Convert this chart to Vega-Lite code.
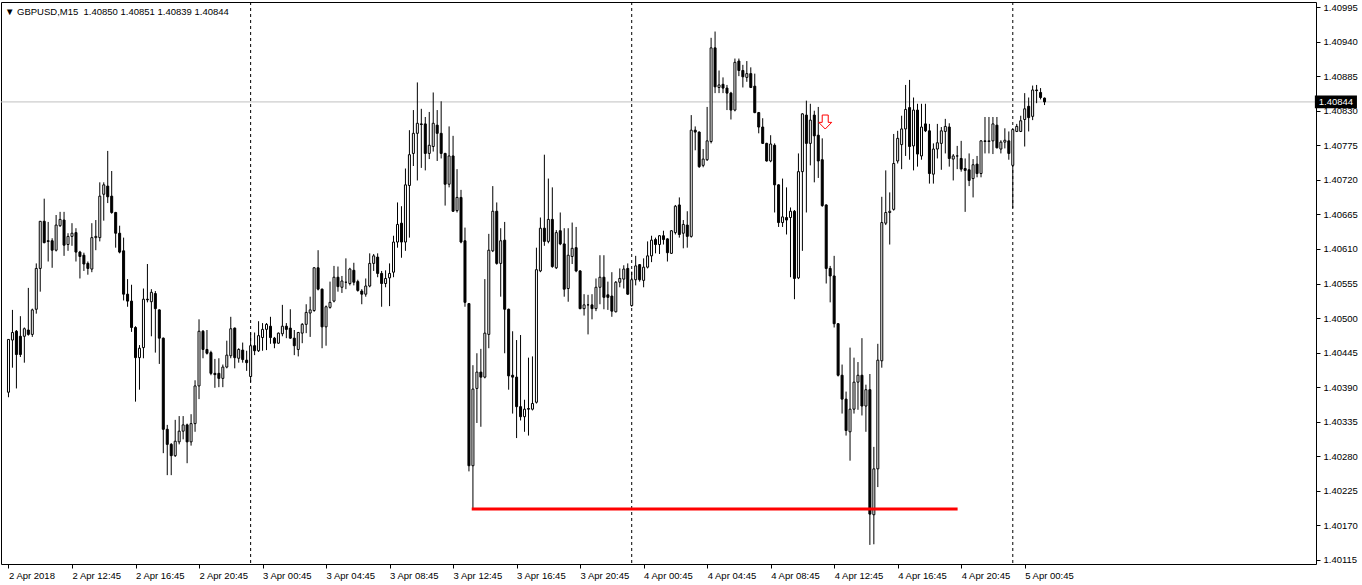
{
  "$schema": "https://vega.github.io/schema/vega-lite/v6.json",
  "width": 1315,
  "height": 562,
  "autosize": {"type": "none"},
  "padding": {"left": 1, "top": 2, "right": 46, "bottom": 21},
  "background": "#ffffff",
  "title": {"text": "\u25bc GBPUSD,M15\u00a0 1.40850 1.40851 1.40839 1.40844", "anchor": "start", "frame": "group", "orient": "top", "offset": -14, "baseline": "bottom", "dx": 4, "dy": 11, "font": "Liberation Sans", "fontSize": 9.5, "fontWeight": "normal", "color": "#000000"},
  "config": {
    "view": {"stroke": "#000000", "strokeWidth": 1},
    "axis": {"domain": false, "grid": false, "title": null, "labelFont": "Liberation Sans", "labelFontSize": 9.5, "labelColor": "#000000", "tickColor": "#000000", "tickSize": 4, "tickWidth": 1, "labelPadding": 2, "labelOverlap": false, "labelFlush": false, "labelBound": false}
  },
  "datasets": {
    "candles": [
      {"i":0,"o":1.40382,"h":1.40466,"l":1.40374,"c":1.40466},
      {"i":1,"o":1.40465,"h":1.40513,"l":1.40421,"c":1.40477},
      {"i":2,"o":1.40479,"h":1.40481,"l":1.40388,"c":1.40442},
      {"i":3,"o":1.40471,"h":1.40503,"l":1.40438,"c":1.40442},
      {"i":4,"o":1.40471,"h":1.40485,"l":1.40429,"c":1.40483},
      {"i":5,"o":1.40481,"h":1.40548,"l":1.40472,"c":1.40474},
      {"i":6,"o":1.40474,"h":1.40515,"l":1.40470,"c":1.40513},
      {"i":7,"o":1.40514,"h":1.40587,"l":1.40507,"c":1.40579},
      {"i":8,"o":1.40579,"h":1.40654,"l":1.40542,"c":1.40654},
      {"i":9,"o":1.40654,"h":1.40690,"l":1.40619,"c":1.40620},
      {"i":10,"o":1.40623,"h":1.40653,"l":1.40590,"c":1.40622},
      {"i":11,"o":1.40623,"h":1.40627,"l":1.40580,"c":1.40608},
      {"i":12,"o":1.40608,"h":1.40664,"l":1.40606,"c":1.40648},
      {"i":13,"o":1.40647,"h":1.40669,"l":1.40645,"c":1.40657},
      {"i":14,"o":1.40656,"h":1.40669,"l":1.40599,"c":1.40616},
      {"i":15,"o":1.40617,"h":1.40635,"l":1.40607,"c":1.40630},
      {"i":16,"o":1.40630,"h":1.40651,"l":1.40615,"c":1.40635},
      {"i":17,"o":1.40636,"h":1.40643,"l":1.40590,"c":1.40605},
      {"i":18,"o":1.40605,"h":1.40607,"l":1.40563,"c":1.40598},
      {"i":19,"o":1.40600,"h":1.40604,"l":1.40575,"c":1.40586},
      {"i":20,"o":1.40587,"h":1.40590,"l":1.40569,"c":1.40579},
      {"i":21,"o":1.40578,"h":1.40651,"l":1.40573,"c":1.40628},
      {"i":22,"o":1.40628,"h":1.40656,"l":1.40608,"c":1.40630},
      {"i":23,"o":1.40628,"h":1.40716,"l":1.40622,"c":1.40694},
      {"i":24,"o":1.40697,"h":1.40716,"l":1.40655,"c":1.40712},
      {"i":25,"o":1.40710,"h":1.40766,"l":1.40683,"c":1.40693},
      {"i":26,"o":1.40694,"h":1.40734,"l":1.40666,"c":1.40668},
      {"i":27,"o":1.40668,"h":1.40669,"l":1.40612,"c":1.40635},
      {"i":28,"o":1.40635,"h":1.40647,"l":1.40603,"c":1.40605},
      {"i":29,"o":1.40607,"h":1.40628,"l":1.40528,"c":1.40538},
      {"i":30,"o":1.40538,"h":1.40562,"l":1.40518,"c":1.40527},
      {"i":31,"o":1.40527,"h":1.40553,"l":1.40478,"c":1.40485},
      {"i":32,"o":1.40485,"h":1.40487,"l":1.40367,"c":1.40437},
      {"i":33,"o":1.40437,"h":1.40457,"l":1.40386,"c":1.40452},
      {"i":34,"o":1.40453,"h":1.40547,"l":1.40436,"c":1.40530},
      {"i":35,"o":1.40530,"h":1.40586,"l":1.40525,"c":1.40529},
      {"i":36,"o":1.40526,"h":1.40546,"l":1.40471,"c":1.40541},
      {"i":37,"o":1.40539,"h":1.40543,"l":1.40445,"c":1.40515},
      {"i":38,"o":1.40513,"h":1.40514,"l":1.40427,"c":1.40468},
      {"i":39,"o":1.40468,"h":1.40469,"l":1.40285,"c":1.40323},
      {"i":40,"o":1.40323,"h":1.40330,"l":1.40250,"c":1.40299},
      {"i":41,"o":1.40299,"h":1.40301,"l":1.40250,"c":1.40281},
      {"i":42,"o":1.40281,"h":1.40338,"l":1.40279,"c":1.40304},
      {"i":43,"o":1.40303,"h":1.40344,"l":1.40299,"c":1.40320},
      {"i":44,"o":1.40320,"h":1.40344,"l":1.40307,"c":1.40330},
      {"i":45,"o":1.40330,"h":1.40332,"l":1.40269,"c":1.40303},
      {"i":46,"o":1.40303,"h":1.40347,"l":1.40297,"c":1.40332},
      {"i":47,"o":1.40332,"h":1.40401,"l":1.40319,"c":1.40392},
      {"i":48,"o":1.40392,"h":1.40498,"l":1.40371,"c":1.40479},
      {"i":49,"o":1.40479,"h":1.40481,"l":1.40436,"c":1.40450},
      {"i":50,"o":1.40450,"h":1.40481,"l":1.40442,"c":1.40444},
      {"i":51,"o":1.40445,"h":1.40448,"l":1.40409,"c":1.40412},
      {"i":52,"o":1.40412,"h":1.40435,"l":1.40389,"c":1.40410},
      {"i":53,"o":1.40412,"h":1.40436,"l":1.40390,"c":1.40404},
      {"i":54,"o":1.40404,"h":1.40426,"l":1.40390,"c":1.40422},
      {"i":55,"o":1.40422,"h":1.40464,"l":1.40420,"c":1.40441},
      {"i":56,"o":1.40440,"h":1.40502,"l":1.40436,"c":1.40483},
      {"i":57,"o":1.40484,"h":1.40485,"l":1.40420,"c":1.40437},
      {"i":58,"o":1.40436,"h":1.40452,"l":1.40429,"c":1.40450},
      {"i":59,"o":1.40449,"h":1.40461,"l":1.40429,"c":1.40434},
      {"i":60,"o":1.40433,"h":1.40448,"l":1.40416,"c":1.40429},
      {"i":61,"o":1.40407,"h":1.40477,"l":1.40398,"c":1.40456},
      {"i":62,"o":1.40456,"h":1.40477,"l":1.40441,"c":1.40448},
      {"i":63,"o":1.40448,"h":1.40495,"l":1.40446,"c":1.40472},
      {"i":64,"o":1.40469,"h":1.40492,"l":1.40448,"c":1.40482},
      {"i":65,"o":1.40482,"h":1.40492,"l":1.40449,"c":1.40490},
      {"i":66,"o":1.40487,"h":1.40502,"l":1.40459,"c":1.40469},
      {"i":67,"o":1.40468,"h":1.40470,"l":1.40452,"c":1.40460},
      {"i":68,"o":1.40460,"h":1.40477,"l":1.40459,"c":1.40476},
      {"i":69,"o":1.40475,"h":1.40521,"l":1.40471,"c":1.40487},
      {"i":70,"o":1.40487,"h":1.40492,"l":1.40468,"c":1.40482},
      {"i":71,"o":1.40484,"h":1.40514,"l":1.40467,"c":1.40468},
      {"i":72,"o":1.40468,"h":1.40481,"l":1.40441,"c":1.40456},
      {"i":73,"o":1.40450,"h":1.40478,"l":1.40439,"c":1.40477},
      {"i":74,"o":1.40476,"h":1.40492,"l":1.40460,"c":1.40490},
      {"i":75,"o":1.40490,"h":1.40522,"l":1.40476,"c":1.40509},
      {"i":76,"o":1.40508,"h":1.40534,"l":1.40470,"c":1.40513},
      {"i":77,"o":1.40512,"h":1.40581,"l":1.40510,"c":1.40580},
      {"i":78,"o":1.40580,"h":1.40608,"l":1.40544,"c":1.40546},
      {"i":79,"o":1.40546,"h":1.40547,"l":1.40452,"c":1.40486},
      {"i":80,"o":1.40486,"h":1.40520,"l":1.40456,"c":1.40518},
      {"i":81,"o":1.40517,"h":1.40558,"l":1.40515,"c":1.40525},
      {"i":82,"o":1.40527,"h":1.40583,"l":1.40525,"c":1.40565},
      {"i":83,"o":1.40565,"h":1.40582,"l":1.40542,"c":1.40550},
      {"i":84,"o":1.40549,"h":1.40567,"l":1.40540,"c":1.40559},
      {"i":85,"o":1.40557,"h":1.40595,"l":1.40546,"c":1.40557},
      {"i":86,"o":1.40555,"h":1.40580,"l":1.40552,"c":1.40578},
      {"i":87,"o":1.40576,"h":1.40588,"l":1.40552,"c":1.40557},
      {"i":88,"o":1.40558,"h":1.40561,"l":1.40542,"c":1.40544},
      {"i":89,"o":1.40543,"h":1.40546,"l":1.40522,"c":1.40538},
      {"i":90,"o":1.40538,"h":1.40563,"l":1.40534,"c":1.40551},
      {"i":91,"o":1.40551,"h":1.40603,"l":1.40549,"c":1.40587},
      {"i":92,"o":1.40587,"h":1.40602,"l":1.40575,"c":1.40599},
      {"i":93,"o":1.40597,"h":1.40603,"l":1.40565,"c":1.40571},
      {"i":94,"o":1.40571,"h":1.40575,"l":1.40518,"c":1.40555},
      {"i":95,"o":1.40555,"h":1.40576,"l":1.40549,"c":1.40563},
      {"i":96,"o":1.40564,"h":1.40587,"l":1.40519,"c":1.40571},
      {"i":97,"o":1.40573,"h":1.40631,"l":1.40565,"c":1.40621},
      {"i":98,"o":1.40621,"h":1.40684,"l":1.40612,"c":1.40649},
      {"i":99,"o":1.40651,"h":1.40678,"l":1.40596,"c":1.40621},
      {"i":100,"o":1.40621,"h":1.40738,"l":1.40607,"c":1.40712},
      {"i":101,"o":1.40711,"h":1.40799,"l":1.40628,"c":1.40760},
      {"i":102,"o":1.40762,"h":1.40831,"l":1.40742,"c":1.40794},
      {"i":103,"o":1.40794,"h":1.40875,"l":1.40719,"c":1.40810},
      {"i":104,"o":1.40809,"h":1.40833,"l":1.40739,"c":1.40808},
      {"i":105,"o":1.40809,"h":1.40820,"l":1.40735,"c":1.40762},
      {"i":106,"o":1.40762,"h":1.40828,"l":1.40753,"c":1.40775},
      {"i":107,"o":1.40773,"h":1.40859,"l":1.40765,"c":1.40810},
      {"i":108,"o":1.40807,"h":1.40831,"l":1.40750,"c":1.40794},
      {"i":109,"o":1.40794,"h":1.40845,"l":1.40754,"c":1.40762},
      {"i":110,"o":1.40762,"h":1.40763,"l":1.40679,"c":1.40713},
      {"i":111,"o":1.40713,"h":1.40805,"l":1.40708,"c":1.40758},
      {"i":112,"o":1.40758,"h":1.40790,"l":1.40669,"c":1.40670},
      {"i":113,"o":1.40671,"h":1.40737,"l":1.40668,"c":1.40692},
      {"i":114,"o":1.40692,"h":1.40704,"l":1.40619,"c":1.40621},
      {"i":115,"o":1.40623,"h":1.40644,"l":1.40518,"c":1.40525},
      {"i":116,"o":1.40523,"h":1.40524,"l":1.40256,"c":1.40265},
      {"i":117,"o":1.40265,"h":1.40425,"l":1.40195,"c":1.40387},
      {"i":118,"o":1.40388,"h":1.40444,"l":1.40333,"c":1.40414},
      {"i":119,"o":1.40414,"h":1.40451,"l":1.40327,"c":1.40406},
      {"i":120,"o":1.40406,"h":1.40562,"l":1.40404,"c":1.40476},
      {"i":121,"o":1.40474,"h":1.40634,"l":1.40452,"c":1.40608},
      {"i":122,"o":1.40607,"h":1.40710,"l":1.40605,"c":1.40670},
      {"i":123,"o":1.40670,"h":1.40684,"l":1.40585,"c":1.40587},
      {"i":124,"o":1.40587,"h":1.40643,"l":1.40534,"c":1.40623},
      {"i":125,"o":1.40624,"h":1.40653,"l":1.40444,"c":1.40514},
      {"i":126,"o":1.40514,"h":1.40515,"l":1.40386,"c":1.40408},
      {"i":127,"o":1.40409,"h":1.40479,"l":1.40348,"c":1.40406},
      {"i":128,"o":1.40406,"h":1.40465,"l":1.40309,"c":1.40359},
      {"i":129,"o":1.40359,"h":1.40473,"l":1.40337,"c":1.40343},
      {"i":130,"o":1.40343,"h":1.40370,"l":1.40319,"c":1.40355},
      {"i":131,"o":1.40356,"h":1.40437,"l":1.40313,"c":1.40355},
      {"i":132,"o":1.40355,"h":1.40439,"l":1.40353,"c":1.40364},
      {"i":133,"o":1.40366,"h":1.40612,"l":1.40364,"c":1.40577},
      {"i":134,"o":1.40575,"h":1.40660,"l":1.40573,"c":1.40643},
      {"i":135,"o":1.40643,"h":1.40760,"l":1.40615,"c":1.40622},
      {"i":136,"o":1.40622,"h":1.40722,"l":1.40619,"c":1.40657},
      {"i":137,"o":1.40657,"h":1.40708,"l":1.40580,"c":1.40582},
      {"i":138,"o":1.40580,"h":1.40640,"l":1.40578,"c":1.40636},
      {"i":139,"o":1.40639,"h":1.40668,"l":1.40616,"c":1.40618},
      {"i":140,"o":1.40618,"h":1.40643,"l":1.40534,"c":1.40546},
      {"i":141,"o":1.40547,"h":1.40643,"l":1.40526,"c":1.40600},
      {"i":142,"o":1.40598,"h":1.40652,"l":1.40586,"c":1.40611},
      {"i":143,"o":1.40612,"h":1.40645,"l":1.40573,"c":1.40575},
      {"i":144,"o":1.40575,"h":1.40576,"l":1.40514,"c":1.40515},
      {"i":145,"o":1.40515,"h":1.40538,"l":1.40504,"c":1.40521},
      {"i":146,"o":1.40521,"h":1.40537,"l":1.40474,"c":1.40521},
      {"i":147,"o":1.40521,"h":1.40538,"l":1.40498,"c":1.40515},
      {"i":148,"o":1.40515,"h":1.40563,"l":1.40511,"c":1.40549},
      {"i":149,"o":1.40549,"h":1.40600,"l":1.40522,"c":1.40565},
      {"i":150,"o":1.40565,"h":1.40600,"l":1.40514,"c":1.40533},
      {"i":151,"o":1.40537,"h":1.40558,"l":1.40513,"c":1.40533},
      {"i":152,"o":1.40535,"h":1.40573,"l":1.40502,"c":1.40511},
      {"i":153,"o":1.40510,"h":1.40559,"l":1.40509,"c":1.40557},
      {"i":154,"o":1.40557,"h":1.40579,"l":1.40549,"c":1.40563},
      {"i":155,"o":1.40562,"h":1.40584,"l":1.40547,"c":1.40578},
      {"i":156,"o":1.40579,"h":1.40587,"l":1.40537,"c":1.40538},
      {"i":157,"o":1.40520,"h":1.40574,"l":1.40518,"c":1.40561},
      {"i":158,"o":1.40561,"h":1.40599,"l":1.40552,"c":1.40583},
      {"i":159,"o":1.40585,"h":1.40586,"l":1.40558,"c":1.40561},
      {"i":160,"o":1.40560,"h":1.40595,"l":1.40549,"c":1.40581},
      {"i":161,"o":1.40581,"h":1.40622,"l":1.40579,"c":1.40599},
      {"i":162,"o":1.40599,"h":1.40631,"l":1.40589,"c":1.40624},
      {"i":163,"o":1.40625,"h":1.40628,"l":1.40603,"c":1.40617},
      {"i":164,"o":1.40617,"h":1.40632,"l":1.40602,"c":1.40631},
      {"i":165,"o":1.40631,"h":1.40639,"l":1.40617,"c":1.40625},
      {"i":166,"o":1.40626,"h":1.40627,"l":1.40590,"c":1.40604},
      {"i":167,"o":1.40603,"h":1.40640,"l":1.40602,"c":1.40639},
      {"i":168,"o":1.40636,"h":1.40680,"l":1.40633,"c":1.40678},
      {"i":169,"o":1.40680,"h":1.40692,"l":1.40628,"c":1.40633},
      {"i":170,"o":1.40635,"h":1.40656,"l":1.40611,"c":1.40649},
      {"i":171,"o":1.40648,"h":1.40670,"l":1.40612,"c":1.40630},
      {"i":172,"o":1.40630,"h":1.40823,"l":1.40628,"c":1.40799},
      {"i":173,"o":1.40799,"h":1.40805,"l":1.40767,"c":1.40796},
      {"i":174,"o":1.40796,"h":1.40797,"l":1.40739,"c":1.40741},
      {"i":175,"o":1.40743,"h":1.40769,"l":1.40740,"c":1.40753},
      {"i":176,"o":1.40752,"h":1.40836,"l":1.40750,"c":1.40782},
      {"i":177,"o":1.40781,"h":1.40946,"l":1.40778,"c":1.40930},
      {"i":178,"o":1.40930,"h":1.40956,"l":1.40858,"c":1.40868},
      {"i":179,"o":1.40867,"h":1.40894,"l":1.40858,"c":1.40871},
      {"i":180,"o":1.40872,"h":1.40883,"l":1.40858,"c":1.40866},
      {"i":181,"o":1.40866,"h":1.40871,"l":1.40831,"c":1.40858},
      {"i":182,"o":1.40858,"h":1.40860,"l":1.40816,"c":1.40831},
      {"i":183,"o":1.40831,"h":1.40913,"l":1.40829,"c":1.40907},
      {"i":184,"o":1.40909,"h":1.40913,"l":1.40885,"c":1.40894},
      {"i":185,"o":1.40894,"h":1.40903,"l":1.40867,"c":1.40884},
      {"i":186,"o":1.40883,"h":1.40909,"l":1.40876,"c":1.40889},
      {"i":187,"o":1.40889,"h":1.40899,"l":1.40866,"c":1.40867},
      {"i":188,"o":1.40869,"h":1.40889,"l":1.40826,"c":1.40827},
      {"i":189,"o":1.40827,"h":1.40828,"l":1.40794,"c":1.40804},
      {"i":190,"o":1.40804,"h":1.40818,"l":1.40777,"c":1.40778},
      {"i":191,"o":1.40778,"h":1.40779,"l":1.40749,"c":1.40750},
      {"i":192,"o":1.40750,"h":1.40791,"l":1.40748,"c":1.40777},
      {"i":193,"o":1.40775,"h":1.40778,"l":1.40668,"c":1.40712},
      {"i":194,"o":1.40712,"h":1.40713,"l":1.40645,"c":1.40652},
      {"i":195,"o":1.40652,"h":1.40722,"l":1.40645,"c":1.40661},
      {"i":196,"o":1.40660,"h":1.40708,"l":1.40633,"c":1.40656},
      {"i":197,"o":1.40660,"h":1.40676,"l":1.40565,"c":1.40670},
      {"i":198,"o":1.40670,"h":1.40672,"l":1.40530,"c":1.40563},
      {"i":199,"o":1.40564,"h":1.40762,"l":1.40562,"c":1.40733},
      {"i":200,"o":1.40733,"h":1.40826,"l":1.40607,"c":1.40825},
      {"i":201,"o":1.40823,"h":1.40846,"l":1.40668,"c":1.40778},
      {"i":202,"o":1.40778,"h":1.40841,"l":1.40743,"c":1.40815},
      {"i":203,"o":1.40823,"h":1.40830,"l":1.40716,"c":1.40790},
      {"i":204,"o":1.40791,"h":1.40836,"l":1.40723,"c":1.40750},
      {"i":205,"o":1.40752,"h":1.40786,"l":1.40677,"c":1.40679},
      {"i":206,"o":1.40680,"h":1.40681,"l":1.40555,"c":1.40579},
      {"i":207,"o":1.40579,"h":1.40583,"l":1.40525,"c":1.40567},
      {"i":208,"o":1.40567,"h":1.40599,"l":1.40485,"c":1.40491},
      {"i":209,"o":1.40491,"h":1.40492,"l":1.40407,"c":1.40409},
      {"i":210,"o":1.40409,"h":1.40426,"l":1.40348,"c":1.40371},
      {"i":211,"o":1.40371,"h":1.40383,"l":1.40313,"c":1.40321},
      {"i":212,"o":1.40319,"h":1.40453,"l":1.40273,"c":1.40355},
      {"i":213,"o":1.40355,"h":1.40437,"l":1.40348,"c":1.40398},
      {"i":214,"o":1.40398,"h":1.40430,"l":1.40354,"c":1.40409},
      {"i":215,"o":1.40409,"h":1.40468,"l":1.40345,"c":1.40360},
      {"i":216,"o":1.40360,"h":1.40394,"l":1.40319,"c":1.40386},
      {"i":217,"o":1.40386,"h":1.40411,"l":1.40139,"c":1.40188},
      {"i":218,"o":1.40187,"h":1.40295,"l":1.40140,"c":1.40260},
      {"i":219,"o":1.40260,"h":1.40459,"l":1.40231,"c":1.40433},
      {"i":220,"o":1.40432,"h":1.40693,"l":1.40421,"c":1.40652},
      {"i":221,"o":1.40651,"h":1.40735,"l":1.40648,"c":1.40668},
      {"i":222,"o":1.40668,"h":1.40700,"l":1.40617,"c":1.40670},
      {"i":223,"o":1.40673,"h":1.40793,"l":1.40671,"c":1.40746},
      {"i":224,"o":1.40750,"h":1.40798,"l":1.40746,"c":1.40786},
      {"i":225,"o":1.40776,"h":1.40822,"l":1.40737,"c":1.40801},
      {"i":226,"o":1.40801,"h":1.40871,"l":1.40758,"c":1.40832},
      {"i":227,"o":1.40835,"h":1.40879,"l":1.40752,"c":1.40773},
      {"i":228,"o":1.40774,"h":1.40851,"l":1.40735,"c":1.40831},
      {"i":229,"o":1.40831,"h":1.40841,"l":1.40741,"c":1.40761},
      {"i":230,"o":1.40758,"h":1.40841,"l":1.40752,"c":1.40804},
      {"i":231,"o":1.40809,"h":1.40841,"l":1.40796,"c":1.40798},
      {"i":232,"o":1.40798,"h":1.40809,"l":1.40714,"c":1.40730},
      {"i":233,"o":1.40729,"h":1.40778,"l":1.40714,"c":1.40769},
      {"i":234,"o":1.40769,"h":1.40809,"l":1.40754,"c":1.40779},
      {"i":235,"o":1.40778,"h":1.40804,"l":1.40736,"c":1.40798},
      {"i":236,"o":1.40797,"h":1.40817,"l":1.40762,"c":1.40805},
      {"i":237,"o":1.40804,"h":1.40810,"l":1.40741,"c":1.40754},
      {"i":238,"o":1.40753,"h":1.40761,"l":1.40719,"c":1.40758},
      {"i":239,"o":1.40758,"h":1.40774,"l":1.40737,"c":1.40758},
      {"i":240,"o":1.40754,"h":1.40782,"l":1.40733,"c":1.40737},
      {"i":241,"o":1.40738,"h":1.40754,"l":1.40669,"c":1.40735},
      {"i":242,"o":1.40736,"h":1.40762,"l":1.40710,"c":1.40719},
      {"i":243,"o":1.40722,"h":1.40753,"l":1.40692,"c":1.40744},
      {"i":244,"o":1.40745,"h":1.40758,"l":1.40724,"c":1.40730},
      {"i":245,"o":1.40730,"h":1.40783,"l":1.40724,"c":1.40782},
      {"i":246,"o":1.40782,"h":1.40820,"l":1.40762,"c":1.40781},
      {"i":247,"o":1.40781,"h":1.40820,"l":1.40762,"c":1.40782},
      {"i":248,"o":1.40782,"h":1.40820,"l":1.40761,"c":1.40809},
      {"i":249,"o":1.40807,"h":1.40820,"l":1.40770,"c":1.40771},
      {"i":250,"o":1.40769,"h":1.40783,"l":1.40762,"c":1.40780},
      {"i":251,"o":1.40780,"h":1.40802,"l":1.40770,"c":1.40783},
      {"i":252,"o":1.40782,"h":1.40797,"l":1.40752,"c":1.40762},
      {"i":253,"o":1.40743,"h":1.40801,"l":1.40675,"c":1.40800},
      {"i":254,"o":1.40797,"h":1.40809,"l":1.40796,"c":1.40805},
      {"i":255,"o":1.40797,"h":1.40822,"l":1.40796,"c":1.40814},
      {"i":256,"o":1.40816,"h":1.40858,"l":1.40773,"c":1.40833},
      {"i":257,"o":1.40837,"h":1.40851,"l":1.40797,"c":1.40819},
      {"i":258,"o":1.40821,"h":1.40870,"l":1.40815,"c":1.40863},
      {"i":259,"o":1.40863,"h":1.40871,"l":1.40842,"c":1.40862},
      {"i":260,"o":1.40859,"h":1.40866,"l":1.40848,"c":1.40851},
      {"i":261,"o":1.40850,"h":1.40851,"l":1.40839,"c":1.40844}
    ]
  },
  "layer": [
    {
      "data": {"values": [{"d": 61}, {"d": 157}, {"d": 253}]},
      "mark": {"type": "rule", "color": "#000000", "strokeWidth": 1, "strokeDash": [3, 3]},
      "encoding": {
        "x": {"field": "d", "type": "quantitative", "scale": {"domain": [-0.625, 328.125], "nice": false, "zero": false},
          "axis": {"values": [0,16,32,48,64,80,96,112,128,144,160,176,192,208,224,240,256], "tickCount": 40, "labelAlign": "left", "labelBaseline": "top", "labelOverlap": false, "labelFlush": false,
            "labelExpr": "['2 Apr 2018','2 Apr 12:45','2 Apr 16:45','2 Apr 20:45','3 Apr 00:45','3 Apr 04:45','3 Apr 08:45','3 Apr 12:45','3 Apr 16:45','3 Apr 20:45','4 Apr 00:45','4 Apr 04:45','4 Apr 08:45','4 Apr 12:45','4 Apr 16:45','4 Apr 20:45','5 Apr 00:45'][round(datum.value/16)]"}}
      }
    },
    {
      "data": {"values": [{"p": 1.40844}]},
      "mark": {"type": "rule", "color": "#c0c0c0", "strokeWidth": 1},
      "encoding": {
        "y": {"field": "p", "type": "quantitative", "scale": {"domain": [1.401086, 1.41003], "nice": false, "zero": false},
          "axis": {"orient": "right", "values": [1.40115,1.4017,1.40225,1.4028,1.40335,1.4039,1.40445,1.405,1.40555,1.4061,1.40665,1.4072,1.40775,1.4083,1.40885,1.4094,1.40995], "tickCount": 40, "format": ".5f", "labelOverlap": false, "labelFlush": false, "labelBound": false, "labelPadding": 3}}
      }
    },
    {
      "data": {"name": "candles"},
      "mark": {"type": "rule", "color": "#000000", "strokeWidth": 1},
      "encoding": {
        "x": {"field": "i", "type": "quantitative", "scale": {"domain": [-0.625, 328.125], "nice": false, "zero": false}},
        "y": {"field": "l", "type": "quantitative", "scale": {"domain": [1.401086, 1.41003], "nice": false, "zero": false}},
        "y2": {"field": "h"}
      }
    },
    {
      "data": {"name": "candles"},
      "mark": {"type": "bar", "size": 2, "stroke": "#000000", "strokeWidth": 1},
      "encoding": {
        "x": {"field": "i", "type": "quantitative", "scale": {"domain": [-0.625, 328.125], "nice": false, "zero": false}},
        "y": {"field": "o", "type": "quantitative", "scale": {"domain": [1.401086, 1.41003], "nice": false, "zero": false}},
        "y2": {"field": "c"},
        "fill": {"condition": {"test": "datum.c >= datum.o", "value": "#ffffff"}, "value": "#000000"}
      }
    },
    {
      "data": {"values": [{"a": 116.7, "b": 239.1, "p": 1.40196}]},
      "mark": {"type": "rule", "color": "#ff0000", "strokeWidth": 3},
      "encoding": {
        "x": {"field": "a", "type": "quantitative", "scale": {"domain": [-0.625, 328.125], "nice": false, "zero": false}},
        "x2": {"field": "b"},
        "y": {"field": "p", "type": "quantitative", "scale": {"domain": [1.401086, 1.41003], "nice": false, "zero": false}}
      }
    },
    {
      "data": {"values": [{"i": 205.75, "p": 1.40812}]},
      "mark": {"type": "point", "shape": "M-0.43,-1L0.43,-1L0.43,0.05L0.93,0.05L0,1L-0.93,0.05L-0.43,0.05Z", "size": 196, "filled": true, "fill": "#ffffff", "stroke": "#ff0000", "strokeWidth": 1, "opacity": 1},
      "encoding": {
        "x": {"field": "i", "type": "quantitative", "scale": {"domain": [-0.625, 328.125], "nice": false, "zero": false}},
        "y": {"field": "p", "type": "quantitative", "scale": {"domain": [1.401086, 1.41003], "nice": false, "zero": false}}
      }
    },
    {
      "data": {"values": [{"a": 329.1, "b": 339.7, "lo": 1.40834, "hi": 1.40854}]},
      "mark": {"type": "rect", "color": "#000000"},
      "encoding": {
        "x": {"field": "a", "type": "quantitative", "scale": {"domain": [-0.625, 328.125], "nice": false, "zero": false}},
        "x2": {"field": "b"},
        "y": {"field": "lo", "type": "quantitative", "scale": {"domain": [1.401086, 1.41003], "nice": false, "zero": false}},
        "y2": {"field": "hi"}
      }
    },
    {
      "data": {"values": [{"a": 334.4, "p": 1.40844, "t": "1.40844"}]},
      "mark": {"type": "text", "color": "#ffffff", "font": "Liberation Sans", "fontSize": 9.5, "align": "center", "baseline": "middle"},
      "encoding": {
        "x": {"field": "a", "type": "quantitative", "scale": {"domain": [-0.625, 328.125], "nice": false, "zero": false}},
        "y": {"field": "p", "type": "quantitative", "scale": {"domain": [1.401086, 1.41003], "nice": false, "zero": false}},
        "text": {"field": "t"}
      }
    }
  ]
}
